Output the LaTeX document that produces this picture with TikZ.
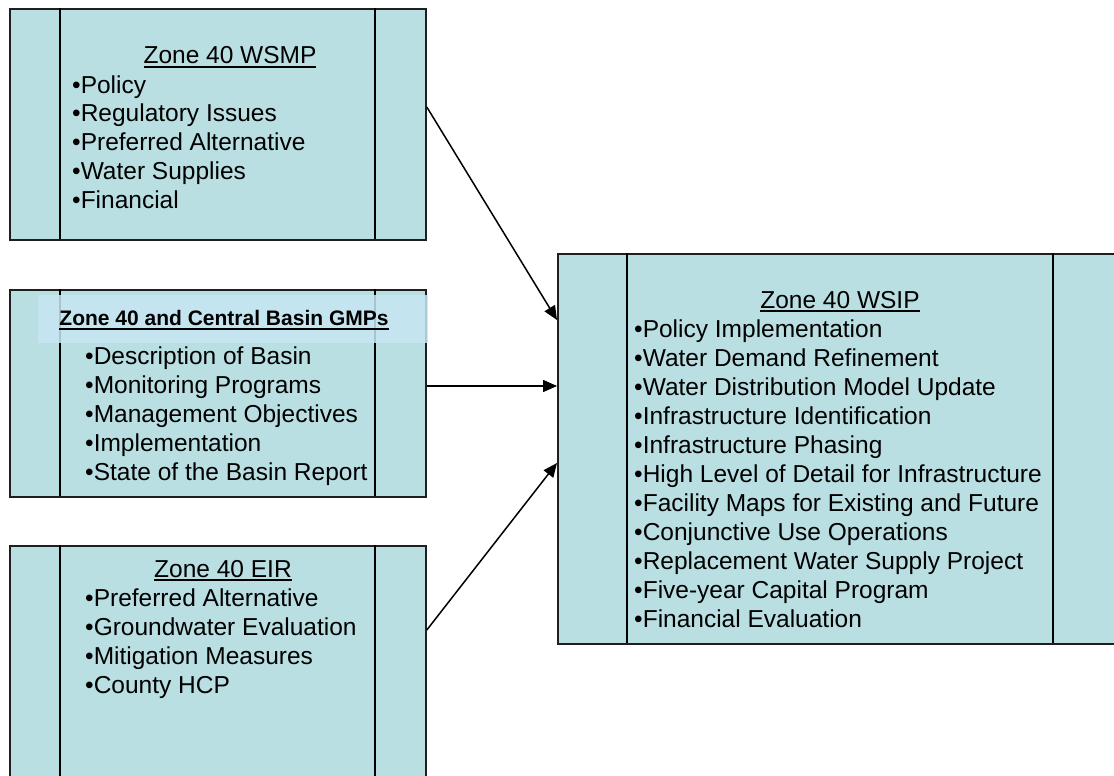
\documentclass[tikz,border=0pt]{standalone}
\usepackage{fontspec}
\setmainfont{Liberation Sans}
\usetikzlibrary{arrows.meta,calc}
\definecolor{boxfill}{RGB}{185,223,227}
\definecolor{bandfill}{RGB}{198,231,242}
\newsavebox\ulbox
\newcommand\myul[3]{\sbox\ulbox{#3}\rlap{\rule[-#1]{\wd\ulbox}{#2}}\usebox\ulbox}
\tikzset{
  box/.style={draw=black!88, line width=1.8pt, fill=boxfill, anchor=north west, inner sep=0pt},
  divider/.style={draw=black, line width=1.2pt},
  band/.style={fill=bandfill, fill opacity=0.85, draw=none},
  item/.style={anchor=base west, inner sep=0pt, font=\fontsize{24.5}{29}\selectfont},
  titletext/.style={anchor=base, inner sep=0pt, font=\fontsize{24.5}{29}\selectfont},
  boldtitle/.style={anchor=base, inner sep=0pt, font=\bfseries\fontsize{21}{25}\selectfont},
  link/.style={draw=black, line width=1.5pt, -{Triangle[length=14pt,width=12pt]}}
}
\begin{document}
\begin{tikzpicture}[x=1pt,y=-1pt]
\useasboundingbox (0,0) rectangle (1114,776);
\clip (0,0) rectangle (1114,776);
% boxes
\node[box, minimum width=416pt, minimum height=231pt] (b1) at (9,8) {};
\node[box, minimum width=416pt, minimum height=207pt] (b2) at (9,289) {};
\node[box, minimum width=416pt, minimum height=260pt] (b3) at (9,545) {};
\node[box, minimum width=580pt, minimum height=390pt] (b4) at (557,253) {};
% inner dividers
\draw[divider] (60,8) -- (60,239) (375,8) -- (375,239);
\draw[divider] (60,289) -- (60,496) (375,289) -- (375,496);
\draw[divider] (60,545) -- (60,800) (375,545) -- (375,800);
\draw[divider] (627,253) -- (627,643) (1053,253) -- (1053,643);
% header band of box 2
\fill[band] (38,295) rectangle (428,343);
% box 1 text
\node[titletext] (t1) at (230,64) {\myul{3.8pt}{1.5pt}{Zone 40 WSMP}};
\foreach \t [count=\i] in {Policy,Regulatory Issues,Preferred Alternative,Water Supplies,Financial}
  \node[item] (a\i) at (72,{93+28.8*(\i-1)}) {•\t};
% box 2 text
\node[boldtitle] (t2) at (224,325) {\myul{4.6pt}{2pt}{Zone 40 and Central Basin GMPs}};
\foreach \t [count=\i] in {Description of Basin,Monitoring Programs,Management Objectives,Implementation,State of the Basin Report}
  \node[item] (c\i) at (85,{364+29*(\i-1)}) {•\t};
% box 3 text
\node[titletext] (t3) at (223,577) {\myul{3.8pt}{1.5pt}{Zone 40 EIR}};
\foreach \t [count=\i] in {Preferred Alternative,Groundwater Evaluation,Mitigation Measures,County HCP}
  \node[item] (e\i) at (85,{606+29*(\i-1)}) {•\t};
% box 4 text
\node[titletext] (t4) at (840,308) {\myul{3.8pt}{1.5pt}{Zone 40 WSIP}};
\foreach \t [count=\i] in {Policy Implementation,Water Demand Refinement,Water Distribution Model Update,Infrastructure Identification,Infrastructure Phasing,High Level of Detail for Infrastructure,Facility Maps for Existing and Future,Conjunctive Use Operations,Replacement Water Supply Project,Five-year Capital Program,Financial Evaluation}
  \node[item] (w\i) at (634,{337+29*(\i-1)}) {•\t};
% connectors
\draw[link] (b1.east |- 0,107) -- (b4.west |- 0,320);
\draw[link] (b2.east |- 0,386) -- (b4.west |- 0,386);
\draw[link] (b3.east |- 0,630) -- (b4.west |- 0,463);
\end{tikzpicture}
\end{document}
